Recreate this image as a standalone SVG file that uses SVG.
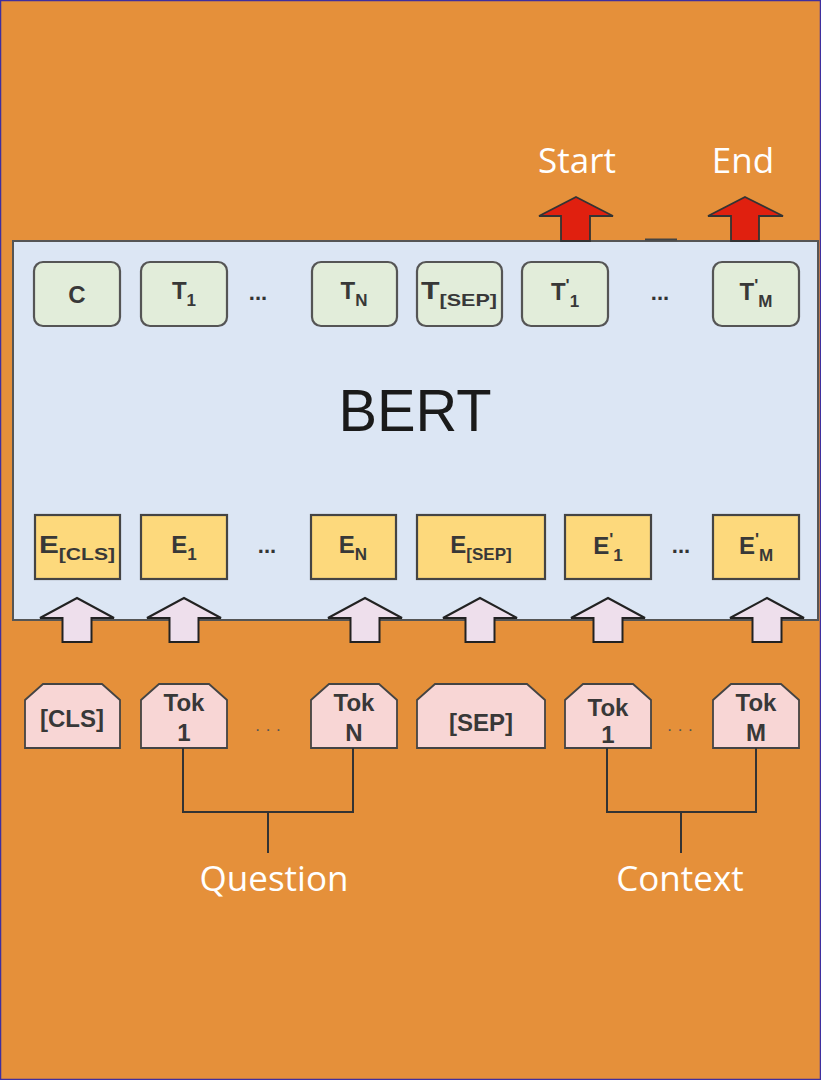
<svg xmlns="http://www.w3.org/2000/svg" width="821" height="1080" viewBox="0 0 821 1080">
<style>
.lbl{font-family:"Liberation Sans",Arial,sans-serif;fill:#383838;font-size:24px;font-weight:bold;text-anchor:middle}
.sub{font-size:17px}
.white{font-family:"Open Sans","Liberation Sans",sans-serif;fill:#fff;font-size:35px;text-anchor:middle}
.tbox{fill:#E2EDDA;stroke:#555;stroke-width:2.2}
.ebox{fill:#FDD97C;stroke:#444;stroke-width:2.2}
.tok{fill:#F8D6D5;stroke:#444;stroke-width:1.8}
.uparrow{fill:#EEDFEC;stroke:#222;stroke-width:2;stroke-linejoin:miter}
.redarrow{fill:#E0200F;stroke:#333;stroke-width:1.8}
.dots{font-family:"Liberation Sans",Arial,sans-serif;fill:#333;font-size:22px;font-weight:bold;text-anchor:middle}
.tdots{font-family:"Liberation Sans",Arial,sans-serif;fill:#555;font-size:17px;text-anchor:middle}
.line{fill:none;stroke:#333;stroke-width:2}
</style>
<rect x="0.5" y="0.5" width="820" height="1079" fill="#E5903A" stroke="#3F2F9F" stroke-width="1.5"/>

<g id="start-label"><text class="white" x="577" y="173">Start</text></g>
<g id="end-label"><text class="white" x="743" y="173">End</text></g>

<g id="bert">
<rect x="13" y="241" width="805" height="379" fill="#DCE6F4" stroke="#555" stroke-width="2"/>
<text x="415" y="431" font-family="Liberation Sans,Arial,sans-serif" font-size="60" fill="#1a1a1a" text-anchor="middle" textLength="153" lengthAdjust="spacingAndGlyphs">BERT</text>
</g>
<line x1="645" y1="239.5" x2="677" y2="239.5" stroke="#444" stroke-width="2"/>

<g id="out-arrows">
<path class="redarrow" d="M576,197 L613,216 L590,216 L590,241 L561,241 L561,216 L539,216 Z"/>
<path class="redarrow" d="M745,197 L783,216 L759,216 L759,241 L731,241 L731,216 L708,216 Z"/>
</g>

<g id="t-row">
<g id="t-c"><rect class="tbox" x="34" y="262" width="86" height="64" rx="9"/><text class="lbl" x="77" y="303">C</text></g>
<g id="t-1"><rect class="tbox" x="141" y="262" width="86" height="64" rx="9"/><text class="lbl" x="184" y="299">T<tspan class="sub" dy="7">1</tspan></text></g>
<text class="dots" x="258" y="300">...</text>
<g id="t-n"><rect class="tbox" x="312" y="262" width="85" height="64" rx="9"/><text class="lbl" x="354" y="299">T<tspan class="sub" dy="7">N</tspan></text></g>
<g id="t-sep"><rect class="tbox" x="417" y="262" width="85" height="64" rx="9"/><text class="lbl" x="459" y="299" textLength="76" lengthAdjust="spacingAndGlyphs">T<tspan class="sub" dy="7">[SEP]</tspan></text></g>
<g id="t-1p"><rect class="tbox" x="522" y="262" width="86" height="64" rx="9"/><text class="lbl" x="565" y="300">T<tspan class="sub" dy="-9">'</tspan><tspan class="sub" dy="16">1</tspan></text></g>
<text class="dots" x="660" y="300">...</text>
<g id="t-mp"><rect class="tbox" x="713" y="262" width="86" height="64" rx="9"/><text class="lbl" x="756" y="300">T<tspan class="sub" dy="-9">'</tspan><tspan class="sub" dy="16">M</tspan></text></g>
</g>

<g id="e-row">
<g id="e-cls"><rect class="ebox" x="35" y="515" width="85" height="64"/><text class="lbl" x="77" y="553" textLength="76" lengthAdjust="spacingAndGlyphs">E<tspan class="sub" dy="7">[CLS]</tspan></text></g>
<g id="e-1"><rect class="ebox" x="141" y="515" width="86" height="64"/><text class="lbl" x="184" y="553">E<tspan class="sub" dy="7">1</tspan></text></g>
<text class="dots" x="267" y="553">...</text>
<g id="e-n"><rect class="ebox" x="311" y="515" width="85" height="64"/><text class="lbl" x="353" y="553">E<tspan class="sub" dy="7">N</tspan></text></g>
<g id="e-sep"><rect class="ebox" x="417" y="515" width="128" height="64"/><text class="lbl" x="481" y="553">E<tspan class="sub" dy="7">[SEP]</tspan></text></g>
<g id="e-1p"><rect class="ebox" x="565" y="515" width="86" height="64"/><text class="lbl" x="608" y="554">E<tspan class="sub" dy="-9">'</tspan><tspan class="sub" dy="16">1</tspan></text></g>
<text class="dots" x="681" y="553">...</text>
<g id="e-mp"><rect class="ebox" x="713" y="515" width="86" height="64"/><text class="lbl" x="756" y="554">E<tspan class="sub" dy="-9">'</tspan><tspan class="sub" dy="16">M</tspan></text></g>
</g>

<g id="in-arrows">
<path class="uparrow" d="M77,598 L114,618 L91.5,618 L91.5,642 L62.5,642 L62.5,618 L40,618 Z"/>
<path class="uparrow" d="M184,598 L221,618 L198.5,618 L198.5,642 L169.5,642 L169.5,618 L147,618 Z"/>
<path class="uparrow" d="M365,598 L402,618 L379.5,618 L379.5,642 L350.5,642 L350.5,618 L328,618 Z"/>
<path class="uparrow" d="M480,598 L517,618 L494.5,618 L494.5,642 L465.5,642 L465.5,618 L443,618 Z"/>
<path class="uparrow" d="M608,598 L645,618 L622.5,618 L622.5,642 L593.5,642 L593.5,618 L571,618 Z"/>
<path class="uparrow" d="M767,598 L804,618 L781.5,618 L781.5,642 L752.5,642 L752.5,618 L730,618 Z"/>
</g>

<g id="tokens">
<g id="tok-cls"><polygon class="tok" points="25,700 43,684 102,684 120,700 120,748 25,748"/><text class="lbl" x="72" y="727" font-size="23" textLength="64" lengthAdjust="spacingAndGlyphs">[CLS]</text></g>
<g id="tok-1"><polygon class="tok" points="141,700 159,684 209,684 227,700 227,748 141,748"/><text class="lbl" x="184" y="711">Tok</text><text class="lbl" x="184" y="741">1</text></g>
<text class="tdots" x="268" y="735">· · ·</text>
<g id="tok-n"><polygon class="tok" points="311,700 329,684 379,684 397,700 397,748 311,748"/><text class="lbl" x="354" y="711">Tok</text><text class="lbl" x="354" y="741">N</text></g>
<g id="tok-sep"><polygon class="tok" points="417,700 435,684 527,684 545,700 545,748 417,748"/><text class="lbl" x="481" y="731" font-size="23">[SEP]</text></g>
<g id="tok-1p"><polygon class="tok" points="565,700 583,684 633,684 651,700 651,748 565,748"/><text class="lbl" x="608" y="716">Tok</text><text class="lbl" x="608" y="743">1</text></g>
<text class="tdots" x="680" y="735">· · ·</text>
<g id="tok-mp"><polygon class="tok" points="713,700 731,684 781,684 799,700 799,748 713,748"/><text class="lbl" x="756" y="711">Tok</text><text class="lbl" x="756" y="741">M</text></g>
</g>

<g id="connectors">
<path class="line" d="M183,748 V812 H353 V748"/>
<path class="line" d="M268,812 V853"/>
<path class="line" d="M607,748 V812 H756 V748"/>
<path class="line" d="M681,812 V853"/>
</g>

<g id="question-label"><text class="white" x="274" y="891">Question</text></g>
<g id="context-label"><text class="white" x="680" y="891">Context</text></g>
</svg>
